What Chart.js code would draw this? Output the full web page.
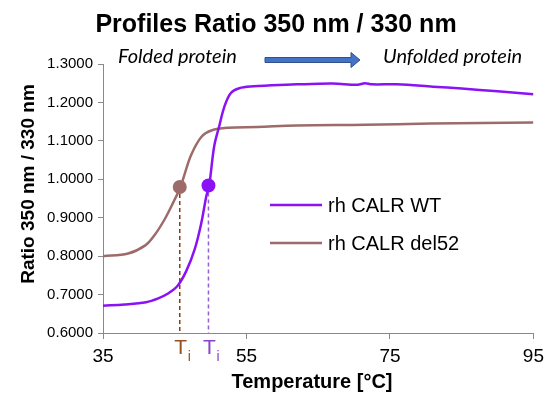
<!DOCTYPE html>
<html>
<head>
<meta charset="utf-8">
<script src="https://cdn.jsdelivr.net/npm/chart.js@4.4.1/dist/chart.umd.min.js"></script>
<style>
  html, body { margin: 0; padding: 0; background: #fff; }
</style>
</head>
<body>
<canvas id="c" width="550" height="404"></canvas>
<script>
// melting curves: temperature (°C) and 350/330 ratio
const wtTemp = [35, 38, 41, 42.7, 44, 45.4, 46.6, 47.8, 48.7, 49.4, 49.8, 50.5, 51.2, 51.9, 52.8, 54, 56, 58, 62, 67, 70.5, 71.5, 72.5, 76, 81, 85, 90, 95];
const wtRatio = [0.671, 0.674, 0.680, 0.690, 0.702, 0.723, 0.761, 0.819, 0.886, 0.956, 0.984, 1.086, 1.138, 1.188, 1.224, 1.237, 1.242, 1.244, 1.247, 1.249, 1.246, 1.250, 1.247, 1.247, 1.241, 1.236, 1.229, 1.221];
const delTemp = [35, 38.5, 40.9, 42.2, 43.6, 44.8, 45.8, 46.4, 47.3, 48.7, 50.1, 52.4, 56.5, 62, 71.5, 80.7, 95];
const delRatio = [0.800, 0.807, 0.828, 0.855, 0.896, 0.940, 0.980, 1.015, 1.064, 1.110, 1.127, 1.134, 1.136, 1.140, 1.142, 1.145, 1.148];

const seriesNames = ['rh CALR WT', 'rh CALR del52'];
const seriesColors = ['#8b12f5', '#9c6b6a'];

// Ti markers (WT, del52)
const tiTemp = [49.7, 45.7];
const tiRatio = [0.984, 0.980];
const tiTextColors = ['#8a45c6', '#985020'];
const tiDashColors = ['#9560d0', '#8c3d10'];

const xTicks = [35, 55, 75, 95];
const yTicks = [0.6, 0.7, 0.8, 0.9, 1.0, 1.1, 1.2, 1.3];

const FONT = '"Liberation Sans", Arial, sans-serif';
const AXIS_GREY = '#898989';

function toPoints(xs, ys) {
    return xs.map((x, i) => ({ x: x, y: ys[i] }));
}

const extras = {
    id: 'extras',
    beforeDatasetsDraw(chart) {
        const ctx = chart.ctx;
        const xs = chart.scales.x, ys = chart.scales.y;
        ctx.save();
        ctx.lineWidth = 1.5;
        ctx.setLineDash([4, 3]);
        tiTemp.forEach((t, i) => {
            const px = xs.getPixelForValue(t);
            ctx.strokeStyle = tiDashColors[i];
            ctx.beginPath();
            ctx.moveTo(px, ys.getPixelForValue(tiRatio[i]));
            ctx.lineTo(px, ys.bottom);
            ctx.stroke();
        });
        ctx.restore();
    },
    afterDraw(chart) {
        const ctx = chart.ctx;
        const xs = chart.scales.x;
        ctx.save();

        // title
        ctx.fillStyle = '#000';
        ctx.textAlign = 'center';
        ctx.textBaseline = 'alphabetic';
        ctx.font = 'bold 25px ' + FONT;
        ctx.fillText('Profiles Ratio 350 nm / 330 nm', 276, 32);

        // axis titles
        ctx.font = 'bold 20px ' + FONT;
        ctx.textBaseline = 'middle';
        ctx.fillText('Temperature [°C]', 312, 382);
        ctx.save();
        ctx.translate(29, 184);
        ctx.rotate(-Math.PI / 2);
        ctx.font = 'bold 19px ' + FONT;
        ctx.fillText('Ratio 350 nm / 330 nm', 0, 0);
        ctx.restore();

        // folded -> unfolded
        ctx.font = 'italic 20px Lato, "Open Sans", sans-serif';
        ctx.textAlign = 'left';
        ctx.textBaseline = 'alphabetic';
        ctx.fillText('Folded protein', 118, 63);
        ctx.fillText('Unfolded protein', 383, 63);
        ctx.fillStyle = '#4472c4';
        ctx.strokeStyle = '#2f528f';
        ctx.lineWidth = 1;
        ctx.beginPath();
        ctx.moveTo(265, 57.5);
        ctx.lineTo(351, 57.5);
        ctx.lineTo(351, 52.5);
        ctx.lineTo(360, 60);
        ctx.lineTo(351, 67.5);
        ctx.lineTo(351, 62.5);
        ctx.lineTo(265, 62.5);
        ctx.closePath();
        ctx.fill();
        ctx.stroke();

        // legend
        ctx.font = '20px ' + FONT;
        ctx.textBaseline = 'middle';
        seriesNames.forEach((name, i) => {
            const y = 205 + i * 38;
            ctx.strokeStyle = seriesColors[i];
            ctx.lineWidth = 2.5;
            ctx.beginPath();
            ctx.moveTo(270, y);
            ctx.lineTo(322, y);
            ctx.stroke();
            ctx.fillStyle = '#000';
            ctx.fillText(name, 328, y + 1);
        });

        // Ti labels
        tiTemp.forEach((t, i) => {
            const px = xs.getPixelForValue(t);
            ctx.fillStyle = tiTextColors[i];
            ctx.textAlign = 'center';
            ctx.textBaseline = 'alphabetic';
            ctx.font = '21px ' + FONT;
            ctx.fillText('T', px + 1, 354);
            ctx.textAlign = 'left';
            ctx.font = '14px ' + FONT;
            ctx.fillText('i', px + 8, 361);
        });
        ctx.restore();
    }
};

new Chart(document.getElementById('c'), {
    type: 'line',
    data: {
        datasets: [
            {
                label: seriesNames[0],
                data: toPoints(wtTemp, wtRatio),
                borderColor: seriesColors[0],
                borderWidth: 2.5,
                pointRadius: 0,
                tension: 0.35
            },
            {
                label: seriesNames[1],
                data: toPoints(delTemp, delRatio),
                borderColor: seriesColors[1],
                borderWidth: 2.5,
                pointRadius: 0,
                tension: 0.35
            },
            {
                label: 'Ti',
                data: toPoints(tiTemp, tiRatio),
                showLine: false,
                pointRadius: 7,
                pointBorderWidth: 0,
                pointBackgroundColor: seriesColors,
                pointBorderColor: seriesColors
            }
        ]
    },
    options: {
        responsive: false,
        animation: false,
        layout: { padding: { top: 64, right: 13, left: 0, bottom: 0 } },
        plugins: {
            legend: { display: false },
            title: { display: false },
            tooltip: { enabled: false }
        },
        scales: {
            x: {
                type: 'linear',
                min: 35,
                max: 95,
                afterBuildTicks: s => { s.ticks = xTicks.map(v => ({ value: v })); },
                afterFit: s => { s.height = 71; },
                ticks: { color: '#000', font: { family: FONT, size: 19 }, padding: 6, maxRotation: 0 },
                grid: { drawOnChartArea: false, tickLength: 6, color: AXIS_GREY },
                border: { color: AXIS_GREY }
            },
            y: {
                min: 0.6,
                max: 1.3,
                afterBuildTicks: s => { s.ticks = yTicks.map(v => ({ value: v })); },
                afterFit: s => { s.width = 103; },
                ticks: {
                    color: '#000',
                    font: { family: FONT, size: 15 },
                    padding: 5,
                    callback: v => v.toFixed(4)
                },
                grid: { drawOnChartArea: false, tickLength: 5, color: AXIS_GREY },
                border: { color: AXIS_GREY }
            }
        }
    },
    plugins: [extras]
});
</script>
</body>
</html>
